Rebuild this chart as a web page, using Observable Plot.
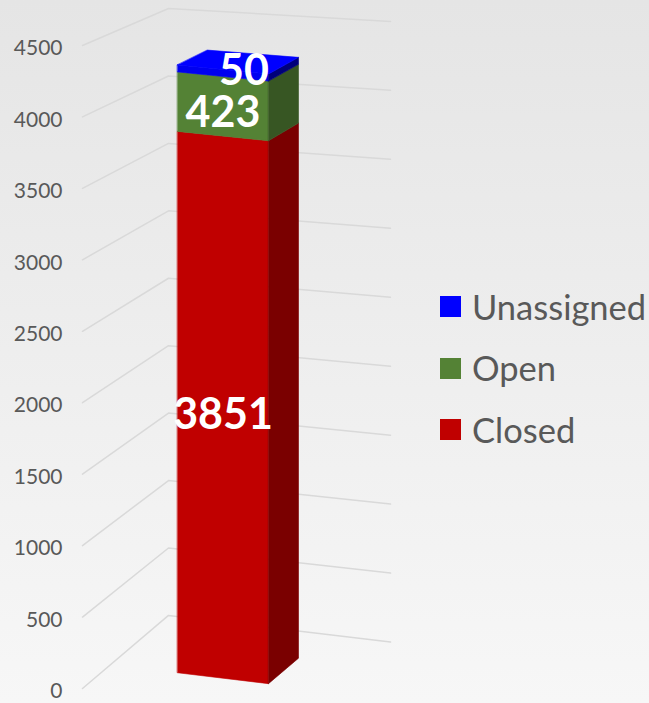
<!DOCTYPE html>
<html><head><meta charset="utf-8">
<script src="https://cdn.jsdelivr.net/npm/d3@7"></script>
<script src="https://cdn.jsdelivr.net/npm/@observablehq/plot@0.6"></script>
<style>
html,body{margin:0;padding:0;}
body{width:649px;height:703px;overflow:hidden;background:linear-gradient(#e5e5e5,#f7f7f7);font-family:Lato,"Open Sans",sans-serif;}
#wrap{position:relative;width:649px;height:703px;}
#legend{position:absolute;left:440px;top:276px;}
.item{display:flex;align-items:center;height:61.5px;}
.sw{width:21px;height:21px;margin-right:11px;}
.lab{font-size:34.5px;color:#595959;line-height:1;}
</style></head>
<body><div id="wrap"><div id="legend"></div></div>
<script>
// ---- data ----
const categories = ["Closed", "Open", "Unassigned"];
const values = [3851, 423, 50];
const tickValues = [0, 500, 1000, 1500, 2000, 2500, 3000, 3500, 4000, 4500];
const legendOrder = ["Unassigned", "Open", "Closed"];

// ---- styles ----
const frontColors = {Closed: "#c00000", Open: "#548235", Unassigned: "#0000f0"};
const sideColors  = {Closed: "#7a0000", Open: "#375623", Unassigned: "#00007a"};
const legendColors = {Closed: "#c00000", Open: "#548235", Unassigned: "#0000ff"};
const topColor = "#0000ff";
const labelOffset = {Closed: [0, 8], Open: [0, 7], Unassigned: [21, -2]};

const W = 649, H = 703, ML = 82, MT = 45, MB = 15;
const UNIT = 91;                       // px per horizontal unit
const vMax = tickValues[tickValues.length - 1];
const PXV = (H - MT - MB) / vMax;      // px per value unit
const D = 86 / UNIT;                   // wall depth
const wallLen = 222 / UNIT;            // back wall length
const x0 = 67 / UNIT, x1 = x0 + 1;     // bar front extent
const df = 28 / UNIT, db = 58 / UNIT;  // bar depth extent

// oblique / perspective-like projection of (x, depth, value) into plot (u, w)
function proj(x, d, v) {
  const t = v / vMax;
  const yPx = UNIT * x * (0.12 - (d / D) * 0.062 * t) + UNIT * d * (-0.85 + 0.42 * t);
  return {u: x + d, w: v - yPx / PXV};
}

// gridlines: left wall + back wall
const grid = [];
tickValues.forEach(t => {
  [[0, 0], [0, D], [wallLen, D]].forEach(([x, d]) => grid.push({tick: t, ...proj(x, d, t)}));
});

// bar faces
const faces = [];
let acc = 0;
categories.forEach((c, i) => {
  const v0 = acc, v1 = acc + values[i];
  acc = v1;
  faces.push({color: frontColors[c], pts: [[x0, df, v0], [x1, df, v0], [x1, df, v1], [x0, df, v1]]});
  faces.push({color: sideColors[c], pts: [[x1, df, v0], [x1, db, v0], [x1, db, v1], [x1, df, v1]]});
});
faces.push({color: topColor, pts: [[x0, df, acc], [x1, df, acc], [x1, db, acc], [x0, db, acc]]});

// labels
const labels = [];
acc = 0;
categories.forEach((c, i) => {
  const v0 = acc, v1 = acc + values[i];
  acc = v1;
  labels.push({cat: c, text: String(values[i]), ...proj((x0 + x1) / 2, df, (v0 + v1) / 2)});
});

const marks = [
  Plot.line(grid, {x: "u", y: "w", z: "tick", stroke: "#d9d9d9", strokeWidth: 1.5}),
  Plot.text(tickValues, {x: t => proj(0, 0, t).u, y: t => proj(0, 0, t).w, text: t => String(t),
    textAnchor: "end", dx: -20, dy: 3, fontSize: 21, fill: "#595959"}),
  ...faces.map(f => Plot.line(f.pts.map(([x, d, v]) => proj(x, d, v)),
    {x: "u", y: "w", curve: "linear-closed", fill: f.color, stroke: f.color, strokeWidth: 0.6})),
  ...labels.map(l => Plot.text([l], {x: "u", y: "w", text: "text",
    dx: labelOffset[l.cat][0], dy: labelOffset[l.cat][1],
    fill: "white", fontSize: 43, fontWeight: "bold"}))
];

const chart = Plot.plot({
  width: W, height: H,
  marginLeft: ML, marginRight: 0, marginTop: MT, marginBottom: MB,
  x: {type: "linear", domain: [0, (W - ML) / UNIT], axis: null},
  y: {type: "linear", domain: [0, vMax], axis: null},
  style: {background: "transparent", fontFamily: "Lato, 'Open Sans', sans-serif", overflow: "visible"},
  marks
});
document.getElementById("wrap").prepend(chart);

const legend = document.getElementById("legend");
legendOrder.forEach(c => {
  const it = document.createElement("div");
  it.className = "item";
  it.innerHTML = `<div class="sw" style="background:${legendColors[c]}"></div><span class="lab">${c}</span>`;
  legend.appendChild(it);
});
</script></body></html>
